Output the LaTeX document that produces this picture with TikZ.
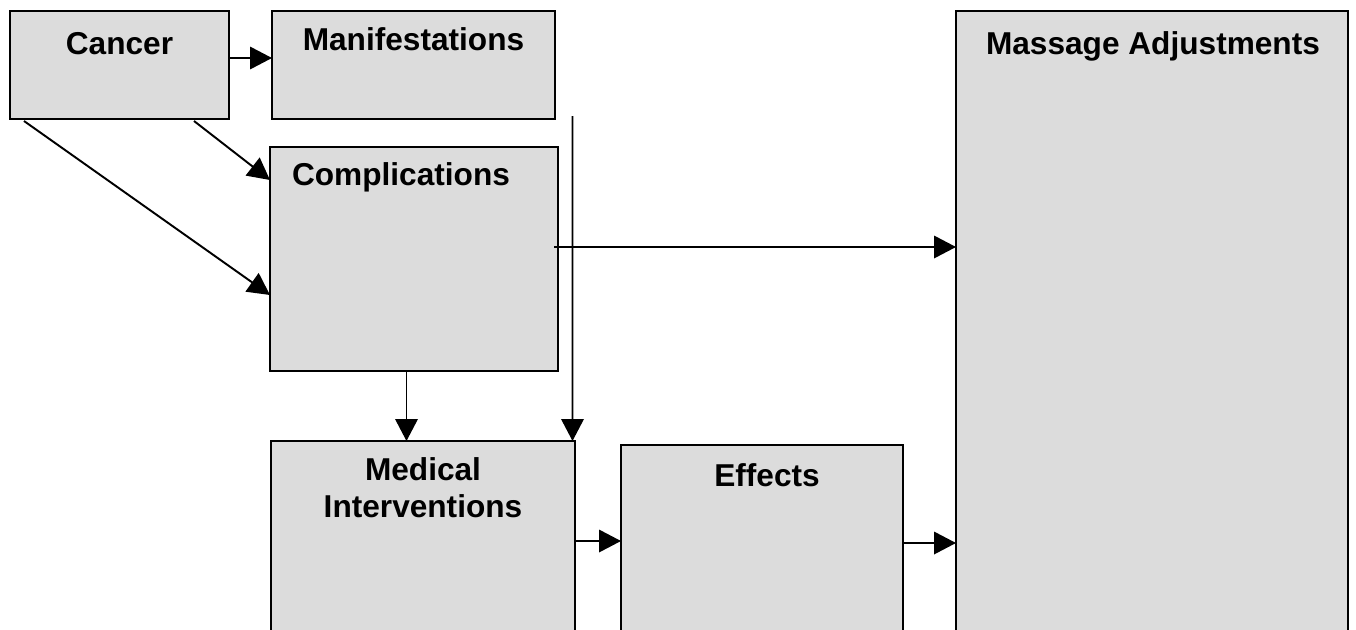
\documentclass[tikz,border=0pt]{standalone}
\usepackage{fontspec}
\setmainfont{Liberation Sans}
\usetikzlibrary{arrows.meta,calc}
\definecolor{boxgray}{RGB}{220,220,220}

\begin{document}
\begin{tikzpicture}[x=0.02cm,y=-0.02cm,
    blk/.style={draw,fill=boxgray,line width=1.1pt,outer sep=0pt,inner sep=0pt,anchor=north west},
    ttl/.style={font=\fontsize{18}{20.5}\selectfont\bfseries,inner sep=0pt,anchor=base,align=center},
    arr/.style={line width=1.1pt,-{Triangle[length=0.44cm,width=0.45cm]}}]
\useasboundingbox (0,0) rectangle (1356,629);
\clip (0,0) rectangle (1356,629);

% Draw the boxes
\node[blk,minimum width=219*0.02cm,minimum height=108*0.02cm] (cancer) at (10,11) {};
\node[blk,minimum width=283*0.02cm,minimum height=108*0.02cm] (manif) at (272,11) {};
\node[blk,minimum width=288*0.02cm,minimum height=224*0.02cm] (compl) at (270,147) {};
\node[blk,minimum width=304*0.02cm,minimum height=200*0.02cm] (medint) at (271,441) {};
\node[blk,minimum width=282*0.02cm,minimum height=200*0.02cm] (effects) at (621,445) {};
\node[blk,minimum width=392*0.02cm,minimum height=640*0.02cm] (massage) at (956,11) {};

% Titles
\node[ttl] (cancerT) at ($(cancer.north)+(0,43)$) {Cancer};
\node[ttl] (manifT) at ($(manif.north)+(0,39)$) {Manifestations};
\node[ttl] (complT) at ($(compl.north)+(-13,38)$) {Complications};
\node[ttl] (medintT) at ($(medint.north)+(0,76)$) {Medical\\Interventions};
\node[ttl] (effectsT) at ($(effects.north)+(5,41)$) {Effects};
\node[ttl] (massageT) at ($(massage.north)+(1,43)$) {Massage Adjustments};

% Draw the edges
\coordinate (vtop) at (572.5,116);
\draw[arr] ($(cancer.north east)+(0,47)$) -- ($(manif.north west)+(0,47)$);
\draw[arr] ($(cancer.south west)+(184,2)$) -- ($(compl.north west)+(0,33)$);
\draw[arr] ($(cancer.south west)+(14,2)$) -- ($(compl.north west)+(0,148)$);
\draw[arr] (vtop) -- ($(medint.north east)+(-2.5,0)$);
\draw[arr] ($(compl.north east)+(-4,100)$) -- ($(massage.north west)+(0,236)$);
\draw[arr] ($(compl.south)+(-7.5,0)$) -- ($(medint.north)+(-16.5,0)$);
\draw[arr] ($(medint.north east)+(0,100)$) -- ($(effects.north west)+(0,96)$);
\draw[arr] ($(effects.north east)+(0,98)$) -- ($(massage.north west)+(0,532)$);

\end{tikzpicture}
\end{document}
